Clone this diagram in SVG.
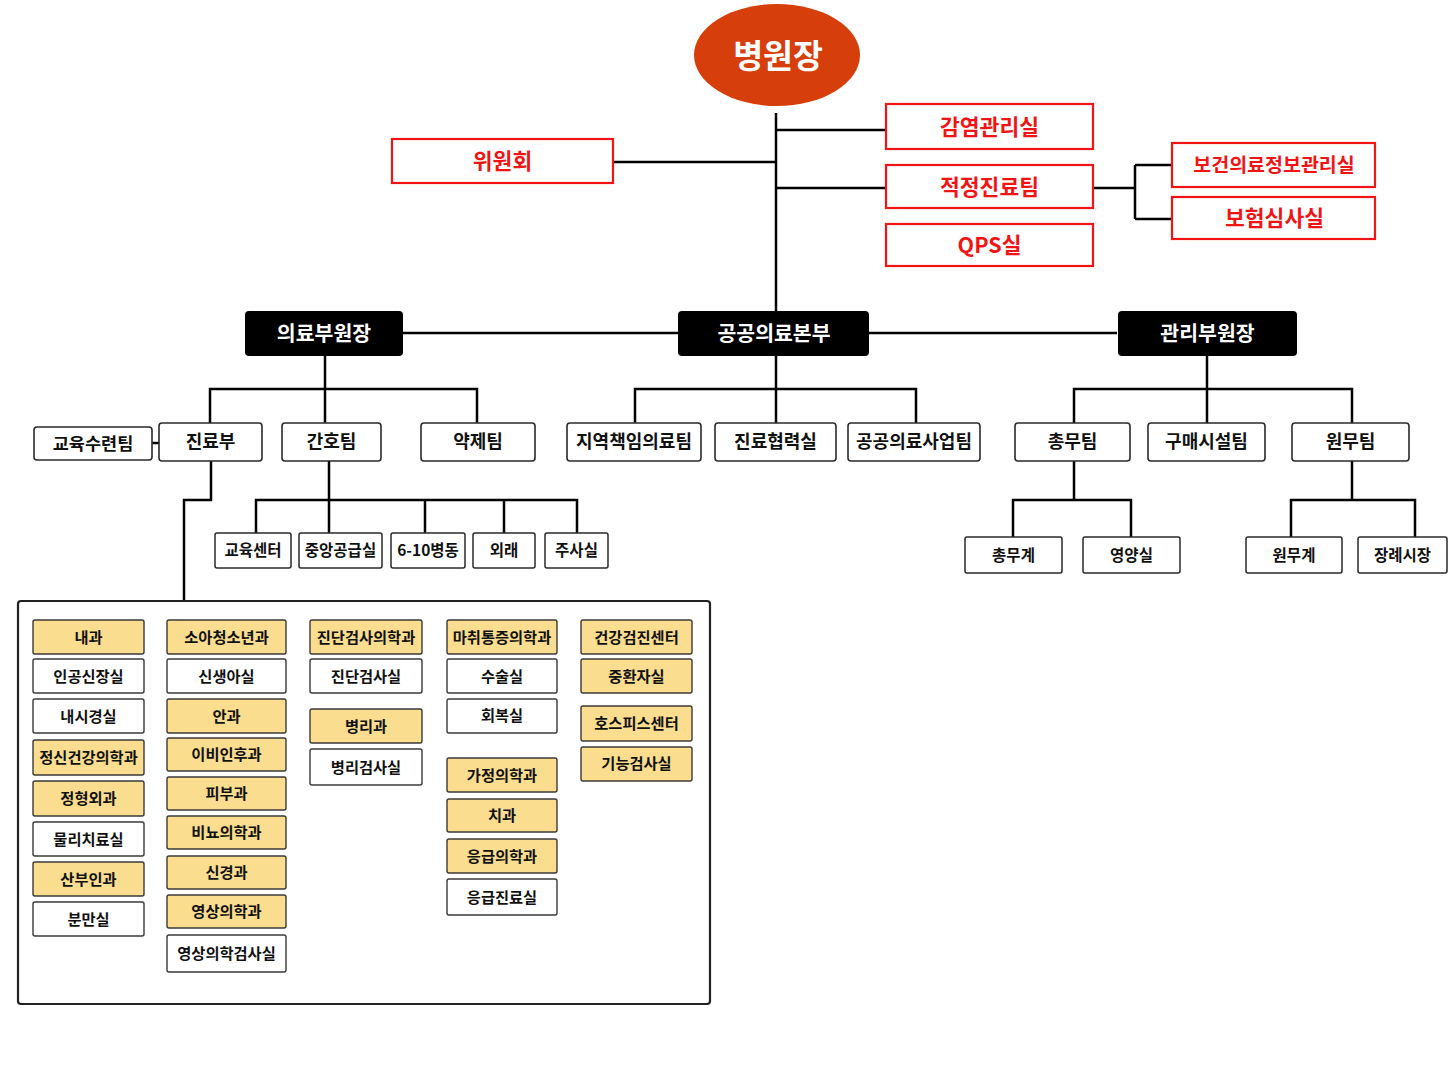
<svg xmlns="http://www.w3.org/2000/svg" width="1448" height="1086" viewBox="0 0 1448 1086">
  <style>
    text { font-family: "Noto Sans CJK KR", "Noto Sans", sans-serif; font-weight: 700; text-anchor: middle; dominant-baseline: central; transform: translateY(-1.5px); }
    .red rect { fill: #fff; stroke: #f01414; stroke-width: 2.2; }
    .red text { fill: #f01414; font-size: 21.5px; }
    .head rect { fill: #000; }
    .head text { fill: #fff; font-size: 20.5px; }
    .box rect { fill: #fff; stroke: #2a2a2a; stroke-width: 1.6; }
    .box text { fill: #111; font-size: 18px; }
    .sub rect { fill: #fff; stroke: #2a2a2a; stroke-width: 1.5; }
    .sub text { fill: #111; font-size: 15.5px; }
    .dept rect { stroke: #3a3a3a; stroke-width: 1.4; }
    .dept text { fill: #111; font-size: 15.3px; }
    .y rect { fill: #fadd8e; }
    .w rect { fill: #fff; }
    .wire { fill: none; stroke: #000; stroke-width: 2.5; }
  </style>

  <!-- connectors -->
  <g id="connectors" class="wire">
    <path d="M776 113 V311"/>
    <path d="M776 130 H886"/>
    <path d="M613 162 H776"/>
    <path d="M776 188 H886"/>
    <path d="M1093 188 H1135 M1135 165 V219 M1135 165 H1172 M1135 219 H1172"/>
    <path d="M403 333 H678 M869 333 H1117"/>
    <!-- 의료부원장 -->
    <path d="M325 356 V423 M210 423 V389 H477 V423"/>
    <path d="M152 443 H159"/>
    <path d="M211 461 V500 H184 V601"/>
    <path d="M329 461 V533 M256 533 V500 H577 V533 M425 500 V533 M504 500 V533"/>
    <!-- 공공의료본부 -->
    <path d="M776 356 V423 M635 423 V389 H916 V423"/>
    <!-- 관리부원장 -->
    <path d="M1207 356 V423 M1074 423 V389 H1352 V423"/>
    <path d="M1074 461 V500 M1013 537 V500 H1131 V537"/>
    <path d="M1352 461 V500 M1291 537 V500 H1415 V537"/>
  </g>

  <!-- top -->
  <g id="n-director">
    <ellipse cx="777" cy="55" rx="83" ry="51" fill="#d63e0b"/>
    <text x="778" y="55" fill="#fff" style="font-size:32.5px">병원장</text>
  </g>
  <g id="n-infection" class="red"><rect x="886" y="104" width="207" height="45"/><text x="989.5" y="127">감염관리실</text></g>
  <g id="n-committee" class="red"><rect x="392" y="139" width="221" height="44"/><text x="502.5" y="161">위원회</text></g>
  <g id="n-care" class="red"><rect x="886" y="165" width="207" height="43"/><text x="989.5" y="186.5">적정진료팀</text></g>
  <g id="n-qps" class="red"><rect x="886" y="224" width="207" height="42"/><text x="989.5" y="245">QPS실</text></g>
  <g id="n-medinfo" class="red"><rect x="1172" y="143" width="203" height="44"/><text x="1274" y="165" style="font-size:19.5px">보건의료정보관리실</text></g>
  <g id="n-insurance" class="red"><rect x="1172" y="197" width="203" height="42"/><text x="1274.5" y="218">보험심사실</text></g>

  <!-- heads -->
  <g id="n-medvp" class="head"><rect x="245" y="311" width="158" height="45" rx="4"/><text x="324" y="333">의료부원장</text></g>
  <g id="n-public" class="head"><rect x="678" y="311" width="191" height="45" rx="4"/><text x="774" y="333">공공의료본부</text></g>
  <g id="n-adminvp" class="head"><rect x="1118" y="311" width="179" height="45" rx="4"/><text x="1207.5" y="333">관리부원장</text></g>

  <!-- level 2 -->
  <g id="n-training" class="box"><rect x="34" y="427" width="118" height="33" rx="3"/><text x="93" y="443.5" style="font-size:17.5px">교육수련팀</text></g>
  <g id="n-clinical" class="box"><rect x="159" y="423" width="103" height="38" rx="3"/><text x="210.5" y="441">진료부</text></g>
  <g id="n-nursing" class="box"><rect x="282" y="423" width="99" height="38" rx="3"/><text x="331.5" y="441">간호팀</text></g>
  <g id="n-pharmacy" class="box"><rect x="421" y="423" width="114" height="38" rx="3"/><text x="478" y="441">약제팀</text></g>
  <g id="n-regional" class="box"><rect x="567" y="423" width="134" height="38" rx="3"/><text x="634" y="441">지역책임의료팀</text></g>
  <g id="n-coop" class="box"><rect x="715" y="423" width="121" height="38" rx="3"/><text x="775.5" y="441">진료협력실</text></g>
  <g id="n-pubproj" class="box"><rect x="848" y="423" width="132" height="38" rx="3"/><text x="914" y="441">공공의료사업팀</text></g>
  <g id="n-general" class="box"><rect x="1015" y="423" width="115" height="38" rx="3"/><text x="1072.5" y="441">총무팀</text></g>
  <g id="n-purchase" class="box"><rect x="1148" y="423" width="117" height="38" rx="3"/><text x="1206.5" y="441">구매시설팀</text></g>
  <g id="n-affairs" class="box"><rect x="1292" y="423" width="117" height="38" rx="3"/><text x="1350.5" y="441">원무팀</text></g>

  <!-- level 3 -->
  <g id="n-edu" class="sub"><rect x="215" y="533" width="76" height="35" rx="2"/><text x="253" y="550">교육센터</text></g>
  <g id="n-supply" class="sub"><rect x="299" y="533" width="83" height="35" rx="2"/><text x="340.5" y="550">중앙공급실</text></g>
  <g id="n-ward" class="sub"><rect x="391" y="533" width="74" height="35" rx="2"/><text x="428" y="550">6-10병동</text></g>
  <g id="n-outpatient" class="sub"><rect x="473" y="533" width="62" height="35" rx="2"/><text x="504" y="550">외래</text></g>
  <g id="n-injection" class="sub"><rect x="545" y="533" width="63" height="35" rx="2"/><text x="576.5" y="550">주사실</text></g>
  <g id="n-gen-sec" class="sub"><rect x="965" y="537" width="97" height="36" rx="2"/><text x="1013.5" y="555">총무계</text></g>
  <g id="n-nutrition" class="sub"><rect x="1083" y="537" width="97" height="36" rx="2"/><text x="1131.5" y="555">영양실</text></g>
  <g id="n-aff-sec" class="sub"><rect x="1246" y="537" width="96" height="36" rx="2"/><text x="1294" y="555">원무계</text></g>
  <g id="n-funeral" class="sub"><rect x="1358" y="537" width="89" height="36" rx="2"/><text x="1402.5" y="555">장례시장</text></g>

  <!-- departments panel -->
  <g id="n-departments">
    <rect x="18" y="601" width="692" height="403" rx="3" fill="#fff" stroke="#222" stroke-width="2.2"/>
  </g>

  <!-- column 1 -->
  <g id="d-internal" class="dept y"><rect x="33" y="620" width="111" height="34" rx="2"/><text x="88.5" y="637">내과</text></g>
  <g id="d-dialysis" class="dept w"><rect x="33" y="659" width="111" height="34" rx="2"/><text x="88.5" y="676">인공신장실</text></g>
  <g id="d-endoscopy" class="dept w"><rect x="33" y="699" width="111" height="34" rx="2"/><text x="88.5" y="716">내시경실</text></g>
  <g id="d-psych" class="dept y"><rect x="33" y="740" width="111" height="35" rx="2"/><text x="88.5" y="757.5">정신건강의학과</text></g>
  <g id="d-ortho" class="dept y"><rect x="33" y="781" width="111" height="35" rx="2"/><text x="88.5" y="798.5">정형외과</text></g>
  <g id="d-physio" class="dept w"><rect x="33" y="822" width="111" height="34" rx="2"/><text x="88.5" y="839">물리치료실</text></g>
  <g id="d-obgyn" class="dept y"><rect x="33" y="862" width="111" height="34" rx="2"/><text x="88.5" y="879">산부인과</text></g>
  <g id="d-delivery" class="dept w"><rect x="33" y="902" width="111" height="34" rx="2"/><text x="88.5" y="919">분만실</text></g>

  <!-- column 2 -->
  <g id="d-pediatrics" class="dept y"><rect x="167" y="620" width="119" height="34" rx="2"/><text x="226.5" y="637">소아청소년과</text></g>
  <g id="d-newborn" class="dept w"><rect x="167" y="659" width="119" height="34" rx="2"/><text x="226.5" y="676">신생아실</text></g>
  <g id="d-ophth" class="dept y"><rect x="167" y="699" width="119" height="34" rx="2"/><text x="226.5" y="716">안과</text></g>
  <g id="d-ent" class="dept y"><rect x="167" y="738" width="119" height="33" rx="2"/><text x="226.5" y="754.5">이비인후과</text></g>
  <g id="d-derm" class="dept y"><rect x="167" y="777" width="119" height="33" rx="2"/><text x="226.5" y="793.5">피부과</text></g>
  <g id="d-uro" class="dept y"><rect x="167" y="816" width="119" height="33" rx="2"/><text x="226.5" y="832.5">비뇨의학과</text></g>
  <g id="d-neuro" class="dept y"><rect x="167" y="856" width="119" height="33" rx="2"/><text x="226.5" y="872.5">신경과</text></g>
  <g id="d-radiology" class="dept y"><rect x="167" y="895" width="119" height="33" rx="2"/><text x="226.5" y="911.5">영상의학과</text></g>
  <g id="d-imaging" class="dept w"><rect x="167" y="935" width="119" height="37" rx="2"/><text x="226.5" y="953.5">영상의학검사실</text></g>

  <!-- column 3 -->
  <g id="d-labmed" class="dept y"><rect x="310" y="620" width="112" height="34" rx="2"/><text x="366" y="637">진단검사의학과</text></g>
  <g id="d-lab" class="dept w"><rect x="310" y="659" width="112" height="34" rx="2"/><text x="366" y="676">진단검사실</text></g>
  <g id="d-pathology" class="dept y"><rect x="310" y="709" width="112" height="34" rx="2"/><text x="366" y="726">병리과</text></g>
  <g id="d-pathlab" class="dept w"><rect x="310" y="749" width="112" height="36" rx="2"/><text x="366" y="767">병리검사실</text></g>

  <!-- column 4 -->
  <g id="d-anesth" class="dept y"><rect x="447" y="620" width="110" height="34" rx="2"/><text x="502" y="637">마취통증의학과</text></g>
  <g id="d-surgery" class="dept w"><rect x="447" y="659" width="110" height="34" rx="2"/><text x="502" y="676">수술실</text></g>
  <g id="d-recovery" class="dept w"><rect x="447" y="699" width="110" height="34" rx="2"/><text x="502" y="715">회복실</text></g>
  <g id="d-family" class="dept y"><rect x="447" y="758" width="110" height="34" rx="2"/><text x="502" y="775">가정의학과</text></g>
  <g id="d-dental" class="dept y"><rect x="447" y="799" width="110" height="33" rx="2"/><text x="502" y="815.5">치과</text></g>
  <g id="d-emergency" class="dept y"><rect x="447" y="839" width="110" height="34" rx="2"/><text x="502" y="856">응급의학과</text></g>
  <g id="d-er" class="dept w"><rect x="447" y="879" width="110" height="36" rx="2"/><text x="502" y="897">응급진료실</text></g>

  <!-- column 5 -->
  <g id="d-checkup" class="dept y"><rect x="581" y="620" width="111" height="34" rx="2"/><text x="636.5" y="637">건강검진센터</text></g>
  <g id="d-icu" class="dept y"><rect x="581" y="659" width="111" height="34" rx="2"/><text x="636.5" y="676">중환자실</text></g>
  <g id="d-hospice" class="dept y"><rect x="581" y="706" width="111" height="35" rx="2"/><text x="636.5" y="723">호스피스센터</text></g>
  <g id="d-function" class="dept y"><rect x="581" y="747" width="111" height="34" rx="2"/><text x="636.5" y="763">기능검사실</text></g>
</svg>
